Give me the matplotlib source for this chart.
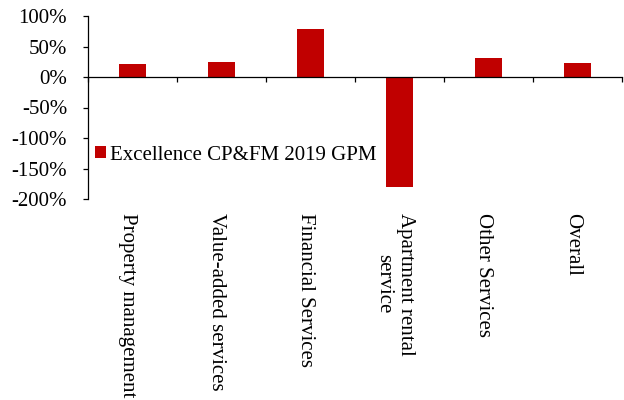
import matplotlib
matplotlib.use("Agg")
import matplotlib.pyplot as plt
import matplotlib.transforms as mtransforms
import numpy as np

# data (percent)
categories = ["Property management", "Value-added services", "Financial Services",
              "Apartment rental\nservice", "Other Services", "Overall"]
gpm_2019 = [20.9, 24.7, 78.6, -181.0, 31.9, 23.6]
series_name = "Excellence CP&FM 2019 GPM"
y_ticks = [-200, -150, -100, -50, 0, 50, 100]

plt.rcParams['font.family'] = ['Liberation Serif', 'DejaVu Serif']

fig = plt.figure(figsize=(6.24, 4.0), dpi=100)
ax = fig.add_axes([0.141, 0.5025, 0.856, 0.4575])

x = np.arange(len(categories)) + 0.5
ax.bar(x, gpm_2019, width=0.31, color="#C00000", label=series_name, zorder=2)

ax.set_xlim(0, len(categories))
ax.set_ylim(-200, 100)
ax.set_yticks(y_ticks)
ax.set_yticklabels([f"{v}%" for v in y_ticks], fontsize=15)

# category boundary ticks on the zero line
ax.set_xticks(np.arange(len(categories) + 1))
ax.set_xticklabels([])
ax.spines['bottom'].set_position(('data', 0))
ax.spines['top'].set_visible(False)
ax.spines['right'].set_visible(False)
for s in ['left', 'bottom']:
    ax.spines[s].set_linewidth(0.9)
    ax.spines[s].set_color('#000000')
ax.tick_params(axis='y', direction='out', length=3.6, width=0.9, pad=11.5)
ax.tick_params(axis='x', direction='out', length=3.6, width=0.9)

# category labels below the plot area
trans = mtransforms.blended_transform_factory(ax.transData, ax.transAxes)
shift = mtransforms.ScaledTranslation(-5 / 100, 0, fig.dpi_scale_trans)
for xi, name in zip(x, categories):
    ax.text(xi, -0.075, name, transform=trans + shift, rotation=270, ha='center', va='top',
            multialignment='center', fontsize=15)

ax.legend(loc='center left', bbox_to_anchor=(-0.002, 0.24), frameon=False,
          fontsize=15, handlelength=0.5, handleheight=0.5, handletextpad=0.2,
          borderaxespad=0)

fig.savefig("out.png", dpi=100)
